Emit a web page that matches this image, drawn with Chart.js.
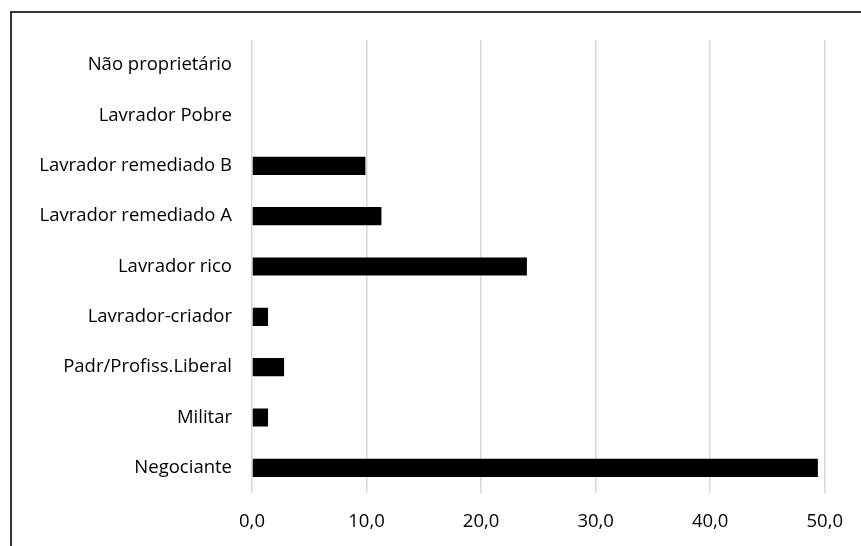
<!DOCTYPE html>
<html>
<head>
<meta charset="utf-8">
<script src="https://cdn.jsdelivr.net/npm/chart.js@4/dist/chart.umd.min.js"></script>
<style>
  html, body { margin: 0; padding: 0; background: #fff; }
  #wrap { position: relative; width: 861px; height: 546px; }
</style>
</head>
<body>
<div id="wrap"><canvas id="chart" width="861" height="546"></canvas></div>
<script>
const categories = [
    'Não proprietário',
    'Lavrador Pobre',
    'Lavrador remediado B',
    'Lavrador remediado A',
    'Lavrador rico',
    'Lavrador-criador',
    'Padr/Profiss.Liberal',
    'Militar',
    'Negociante'
];
const values = [0, 0, 9.9, 11.3, 24.0, 1.4, 2.8, 1.4, 49.4];
const xTicks = [0, 10, 20, 30, 40, 50];

// chart area border, only top and left edges fall inside the canvas
const frame = {
    id: 'frame',
    beforeDraw(chart) {
        const ctx = chart.ctx;
        ctx.save();
        ctx.strokeStyle = '#333333';
        ctx.lineWidth = 2;
        ctx.beginPath();
        ctx.moveTo(11, chart.height);
        ctx.lineTo(11, 12);
        ctx.lineTo(chart.width, 12);
        ctx.stroke();
        ctx.restore();
    }
};

const font = { family: 'Open Sans', size: 18.5 };

new Chart(document.getElementById('chart'), {
    type: 'bar',
    data: {
        labels: categories,
        datasets: [{
            data: values,
            backgroundColor: '#000000',
            borderWidth: 0,
            categoryPercentage: 1,
            barPercentage: 0.36
        }]
    },
    options: {
        indexAxis: 'y',
        responsive: false,
        animation: false,
        layout: { padding: { top: 40, right: 35, left: 0, bottom: 0 } },
        plugins: { legend: { display: false }, tooltip: { enabled: false } },
        scales: {
            x: {
                min: 0,
                max: 50,
                afterBuildTicks: (s) => { s.ticks = xTicks.map(v => ({ value: v })); },
                afterFit: (s) => { s.height = 53; },
                grid: { color: '#d9d9d9', lineWidth: 1.5, drawTicks: false },
                border: { display: false },
                ticks: {
                    padding: 18,
                    color: '#000',
                    font: font,
                    callback: (v) => v.toFixed(1).replace('.', ',')
                }
            },
            y: {
                afterFit: (s) => { s.width = 252; },
                grid: { display: false, drawTicks: false },
                border: { display: false },
                ticks: { padding: 20, color: '#000', font: font }
            }
        }
    },
    plugins: [frame]
});
</script>
</body>
</html>
